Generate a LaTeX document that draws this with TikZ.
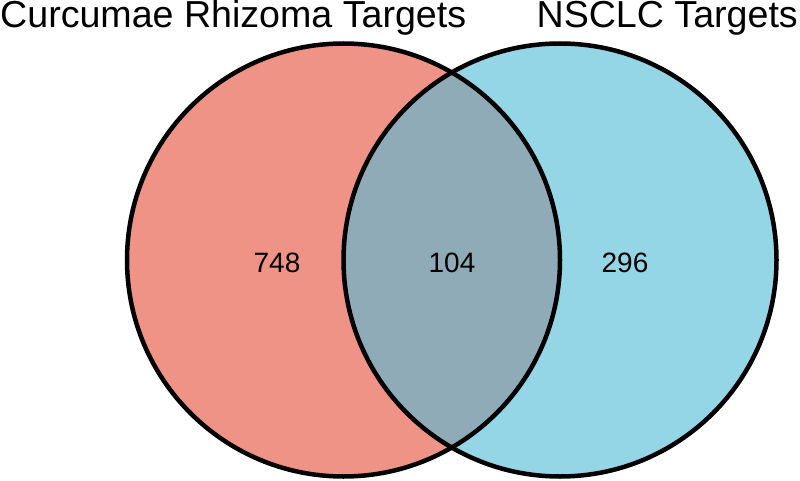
\documentclass[tikz,border=0pt]{standalone}
\usepackage{fontspec}
\setmainfont{Liberation Sans}
\definecolor{leftfill}{RGB}{240,147,135}
\definecolor{rightfill}{RGB}{148,214,230}
\definecolor{midfill}{RGB}{143,171,183}
\begin{document}
\begin{tikzpicture}[x=1pt,y=-1pt,
  title/.style={font=\fontsize{37.6}{41}\selectfont, inner sep=0pt},
  count/.style={font=\fontsize{28}{30}\selectfont, inner sep=0pt},
  ring/.style={draw=black, line width=4.5pt}]
\useasboundingbox (0,0) rectangle (800,481);
\coordinate (lc) at (343.5,260);
\coordinate (rc) at (560,260);
\fill[leftfill] (lc) circle (216.5);
\fill[rightfill] (rc) circle (216.5);
\begin{scope}
  \clip (lc) circle (216.5);
  \fill[midfill] (rc) circle (216.5);
\end{scope}
\draw[ring] (lc) circle (216.5);
\draw[ring] (rc) circle (216.5);
\node[title, anchor=base west] (t1) at (0,28) {Curcumae Rhizoma Targets};
\node[title, anchor=base east] (t2) at (798,28) {NSCLC Targets};
\node[count] (n1) at (277,263) {748};
\node[count] (n2) at (452,262.5) {104};
\node[count] (n3) at (625,262.5) {296};
\end{tikzpicture}
\end{document}
